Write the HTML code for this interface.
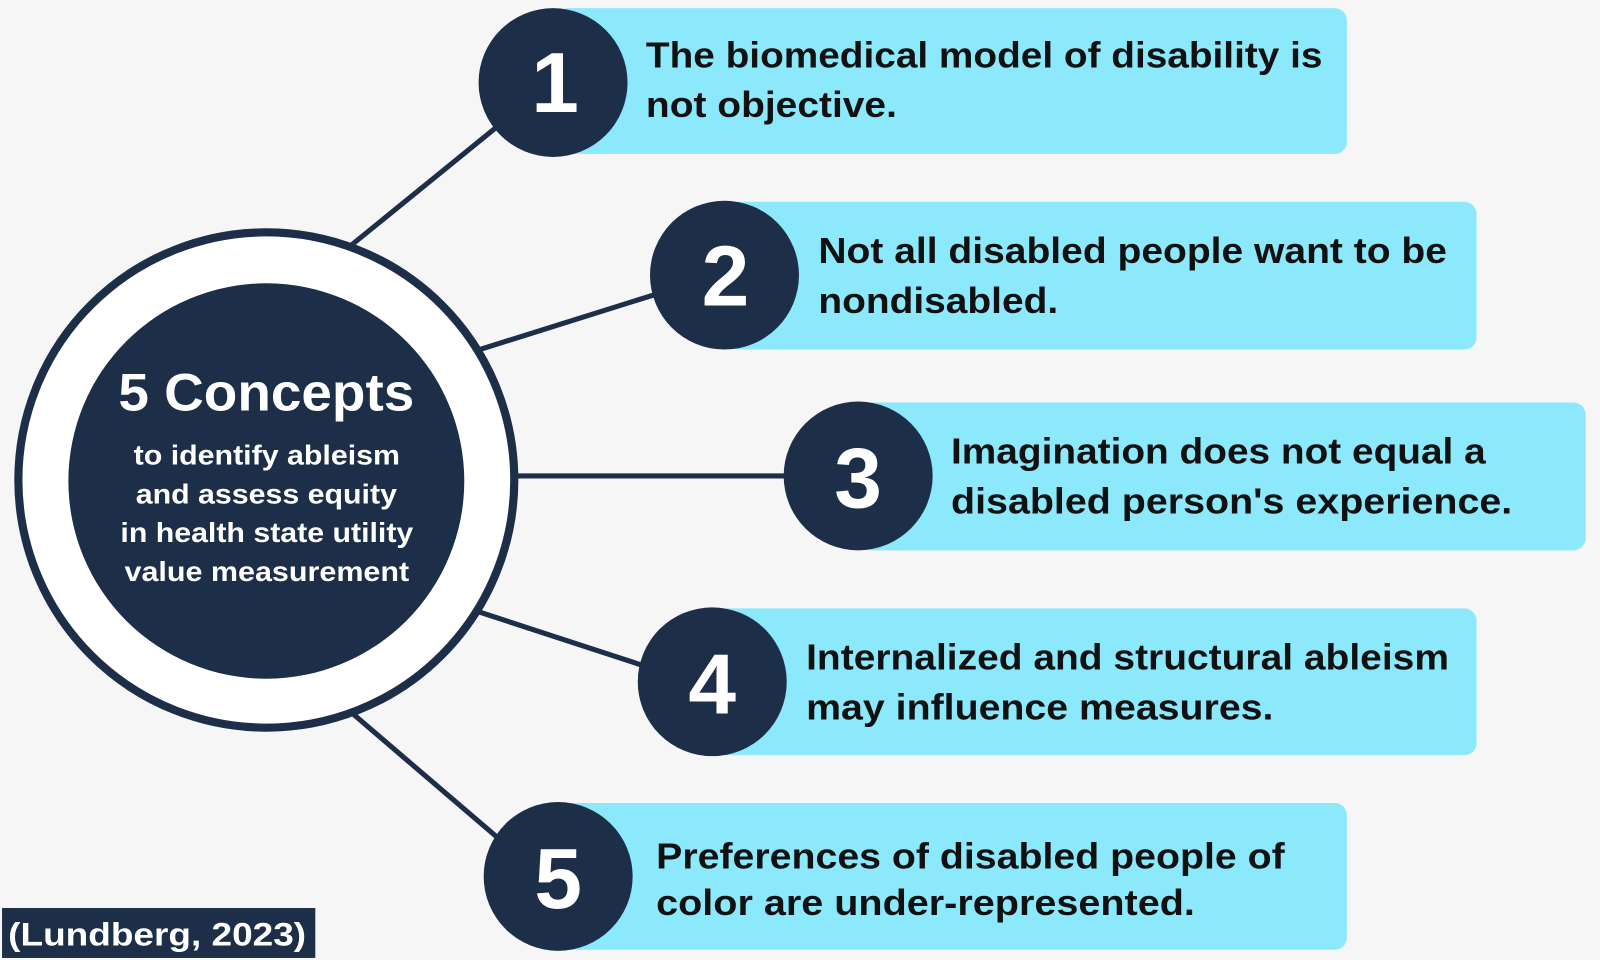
<!DOCTYPE html>
<html><head><meta charset="utf-8"><style>
html,body{margin:0;padding:0;background:#f6f6f6;}
svg{display:block;}
text{font-family:"Liberation Sans",sans-serif;font-weight:bold;}
</style></head><body>
<svg width="1600" height="960" viewBox="0 0 1568 942" preserveAspectRatio="none" xmlns="http://www.w3.org/2000/svg">
<rect width="1568" height="942" fill="#f6f6f6"/>
<g stroke="#1c2e48" stroke-width="5" fill="none">
<line x1="345" y1="240" x2="490" y2="122"/>
<line x1="470" y1="343" x2="642" y2="289"/>
<line x1="500" y1="467" x2="772" y2="467"/>
<line x1="468" y1="600" x2="630" y2="653"/>
<line x1="343" y1="698" x2="490" y2="824"/>
</g>
<circle cx="261" cy="471" r="243" fill="#fff" stroke="#1c2e48" stroke-width="8"/>
<circle cx="261" cy="472" r="194" fill="#1c2e48"/>
<text x="116" y="403" fill="#fff" font-size="52" textLength="290" lengthAdjust="spacingAndGlyphs">5 Concepts</text>
<g fill="#fff" font-size="27">
<text x="131" y="456" textLength="261" lengthAdjust="spacingAndGlyphs">to identify ableism</text>
<text x="133" y="494" textLength="256" lengthAdjust="spacingAndGlyphs">and assess equity</text>
<text x="118" y="532" textLength="287" lengthAdjust="spacingAndGlyphs">in health state utility</text>
<text x="122" y="570" textLength="279" lengthAdjust="spacingAndGlyphs">value measurement</text>
</g>
<g fill="#8ce9fc">
<rect x="545" y="8" width="775" height="143" rx="12"/>
<rect x="712" y="198" width="735" height="145" rx="12"/>
<rect x="842" y="395" width="712" height="145" rx="12"/>
<rect x="700" y="597" width="747" height="144" rx="12"/>
<rect x="548" y="788" width="772" height="144" rx="12"/>
</g>
<g fill="#1c2e48">
<circle cx="542" cy="81" r="73"/>
<circle cx="710" cy="270" r="73"/>
<circle cx="841" cy="467" r="73"/>
<circle cx="698" cy="669" r="73"/>
<circle cx="547" cy="860" r="73"/>
</g>
<g fill="#fff" font-size="84" text-anchor="middle">
<text x="544" y="110">1</text>
<text x="711" y="300">2</text>
<text x="841" y="498">3</text>
<text x="698" y="700">4</text>
<text x="547" y="891">5</text>
</g>
<g fill="#111" font-size="35">
<text x="633" y="66" textLength="663" lengthAdjust="spacingAndGlyphs">The biomedical model of disability is</text>
<text x="633" y="115" textLength="246" lengthAdjust="spacingAndGlyphs">not objective.</text>
<text x="802" y="258" textLength="616" lengthAdjust="spacingAndGlyphs">Not all disabled people want to be</text>
<text x="802" y="307" textLength="235" lengthAdjust="spacingAndGlyphs">nondisabled.</text>
<text x="932" y="455" textLength="524" lengthAdjust="spacingAndGlyphs">Imagination does not equal a</text>
<text x="932" y="504" textLength="550" lengthAdjust="spacingAndGlyphs">disabled person's experience.</text>
<text x="790" y="657" textLength="630" lengthAdjust="spacingAndGlyphs">Internalized and structural ableism</text>
<text x="790" y="706" textLength="458" lengthAdjust="spacingAndGlyphs">may influence measures.</text>
<text x="643" y="852" textLength="616" lengthAdjust="spacingAndGlyphs">Preferences of disabled people of</text>
<text x="643" y="898" textLength="528" lengthAdjust="spacingAndGlyphs">color are under-represented.</text>
</g>
<rect x="2" y="891" width="307" height="49" fill="#1c2e48"/>
<text x="8" y="928" fill="#fff" font-size="32" textLength="292" lengthAdjust="spacingAndGlyphs">(Lundberg, 2023)</text>
</svg>
</body></html>
